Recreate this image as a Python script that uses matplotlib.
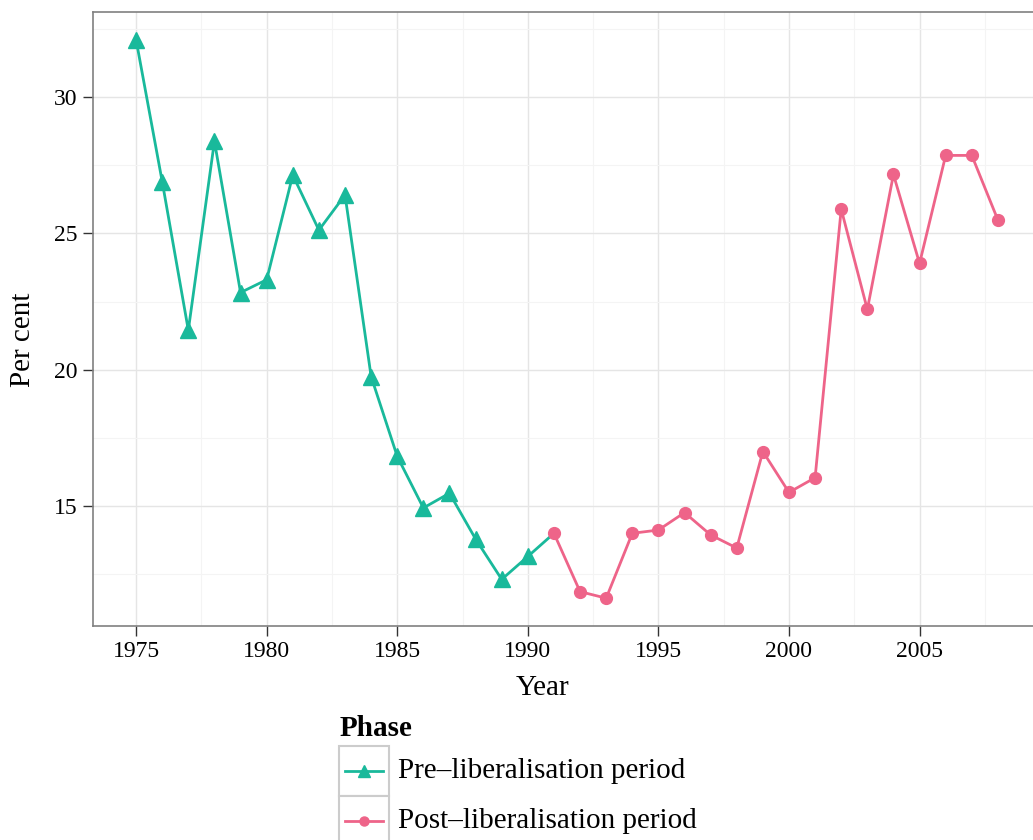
import matplotlib
matplotlib.use("Agg")
import matplotlib.pyplot as plt
from matplotlib.lines import Line2D
from matplotlib.patches import Rectangle
from matplotlib.ticker import MultipleLocator

# pre-liberalisation (line runs on to 1991, markers stop at 1990)
pre_years = list(range(1975, 1992))
pre_vals = [32.1, 26.9, 21.45, 28.38, 22.83, 23.3, 27.14, 25.12, 26.41,
            19.75, 16.82, 14.93, 15.47, 13.79, 12.31, 13.15, 14.0]

post_years = list(range(1991, 2009))
post_vals = [14.0, 11.86, 11.62, 14.0, 14.12, 14.76, 13.94, 13.46, 17.0,
             15.5, 16.04, 25.89, 22.21, 27.16, 23.9, 27.86, 27.86, 25.49]

labels = ["Pre\u2013liberalisation period", "Post\u2013liberalisation period"]
TEAL = "#19B99B"
PINK = "#EE6489"

plt.rcParams["font.family"] = ["Liberation Serif", "DejaVu Serif"]

W, H = 1033, 840
fig = plt.figure(figsize=(W / 100, H / 100), dpi=100)
ax = fig.add_axes([93 / W, 1 - 626 / H, 948 / W, 614 / H])

ax.plot(pre_years, pre_vals, color=TEAL, lw=2.0, marker="^", ms=11,
        markevery=slice(0, len(pre_years) - 1), zorder=3)
ax.plot(post_years, post_vals, color=PINK, lw=2.0, marker="o", ms=8.5, zorder=4)

ax.set_xlim(1973.35, 2009.65)
ax.set_ylim(10.6, 33.12)
ax.xaxis.set_major_locator(MultipleLocator(5))
ax.xaxis.set_minor_locator(MultipleLocator(2.5))
ax.yaxis.set_major_locator(MultipleLocator(5))
ax.yaxis.set_minor_locator(MultipleLocator(2.5))
ax.set_yticks([15, 20, 25, 30])

ax.grid(which="major", color="#E5E5E5", lw=1.0)
ax.grid(which="minor", color="#F4F4F4", lw=0.8)
ax.set_axisbelow(True)
ax.tick_params(which="minor", length=0)
ax.tick_params(which="major", length=7, width=1.0, color="#333333",
               labelsize=17, pad=4)
for s in ax.spines.values():
    s.set_color("#808080")
    s.set_linewidth(1.2)

# axis titles placed where the reference has them
fig.text(543 / W, 1 - 688 / H, "Year", fontsize=21, ha="center", va="center")
fig.text(23 / W, 1 - 340 / H, "Per cent", fontsize=21, ha="center", va="center",
         rotation=90)

# legend built by hand, ggplot style with boxed keys
fig.text(340 / W, 1 - 728 / H, "Phase", fontsize=21, fontweight="bold",
         va="center", ha="left")
for i, (lab, col, mk, ms) in enumerate(zip(labels, [TEAL, PINK], ["^", "o"], [8, 6.5])):
    top = 746 + i * 50
    fig.add_artist(Rectangle((339 / W, 1 - (top + 50) / H), 50 / W, 50 / H,
                             transform=fig.transFigure, facecolor="white",
                             edgecolor="#CCCCCC", lw=1.5))
    yc = 1 - (top + 25) / H
    fig.add_artist(Line2D([345 / W, 383 / W], [yc, yc], transform=fig.transFigure,
                          color=col, lw=2.0))
    fig.add_artist(Line2D([364 / W], [yc], transform=fig.transFigure, color=col,
                          marker=mk, ms=ms, lw=0))
    fig.text(398 / W, yc, lab, fontsize=21, va="center", ha="left")

fig.savefig("out.png", dpi=100)
